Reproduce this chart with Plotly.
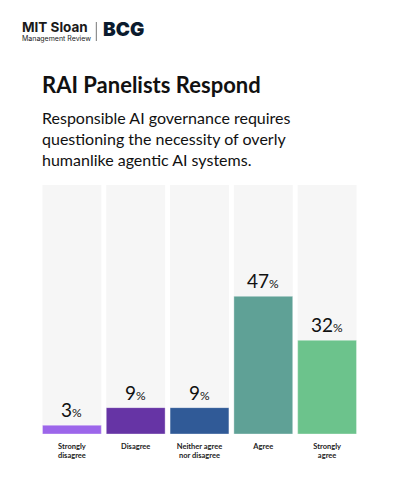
import plotly.graph_objects as go

categories = ["Strongly disagree", "Disagree", "Neither agree nor disagree", "Agree", "Strongly agree"]
tick_labels = ["Strongly<br>disagree", "Disagree", "Neither agree<br>nor disagree", "Agree", "Strongly<br>agree"]
values = [3, 9, 9, 47, 32]
colors = ["#9c66ea", "#6634a5", "#305a97", "#5fa196", "#6cc38c"]
axis_max = 85

# page body has an 8px default margin; figure sized to fit the 400x500 window
OFF = 8
W, H = 400 - OFF, 500 - OFF
ml, mr, mt, mb = 39.5 - OFF, 400 - 359.5, 185 - OFF, 500 - 434
PW, PH = W - ml - mr, H - mt - mb

fig = go.Figure()
fig.add_trace(go.Bar(x=categories, y=[axis_max] * len(categories), marker=dict(color="#f6f6f6", line=dict(width=0)),
                     hoverinfo="skip", showlegend=False))
fig.add_trace(go.Bar(x=categories, y=values, marker=dict(color=colors, line=dict(color="rgba(255,255,255,0.35)", width=1)),
                     showlegend=False))

for c, v in zip(categories, values):
    fig.add_annotation(x=c, y=v, xref="x", yref="y", yshift=2, yanchor="bottom", showarrow=False,
                       text=f"{v}<span style='font-size:12px'>%</span>",
                       font=dict(family="Lato", size=19, color="#111111"))

def px_x(p):
    return (p - OFF - ml) / PW
def px_y(p):
    return (H - mb - (p - OFF)) / PH

def add_text(txt, x, y, size, weight="normal", family="Lato", color="#111111", xanchor="left", yanchor="middle"):
    fig.add_annotation(x=px_x(x), y=px_y(y), xref="paper", yref="paper", showarrow=False, xanchor=xanchor,
                       yanchor=yanchor, text=txt, align="left", xshift=0,
                       font=dict(family=family, size=size, color=color, weight=weight))

# logo
add_text("<b>MIT Sloan</b>", 19, 26.5, 13.5, family="Inter", color="#1a1a1a")
add_text("Management Review", 19, 38.5, 7, family="Inter", color="#1a1a1a")
add_text("BCG", 101, 29, 19, weight=900, family="Inter", color="#0b1b2e")
fig.add_shape(type="line", xref="paper", yref="paper", x0=px_x(96), x1=px_x(96), y0=px_y(22), y1=px_y(41),
              line=dict(color="#777777", width=1))

add_text("RAI Panelists Respond", 40, 84, 22, weight="bold")
add_text("Responsible AI governance requires<br>questioning the necessity of overly<br>humanlike agentic AI systems.",
         40, 138, 16, yanchor="middle")

fig.update_layout(
    width=W, height=H,
    margin=dict(l=ml, r=mr, t=mt, b=mb, pad=0),
    paper_bgcolor="white", plot_bgcolor="white",
    barmode="overlay", bargap=0.078,
    xaxis=dict(tickmode="array", tickvals=categories, ticktext=[f"<b>{t}</b>" for t in tick_labels],
               tickfont=dict(family="Lato", size=7.5, color="#222222"), showgrid=False, zeroline=False,
               showline=False, ticks="", fixedrange=True, ticklabelstandoff=6),
    yaxis=dict(range=[0, axis_max], visible=False, fixedrange=True),
    showlegend=False,
)

fig.write_html("out.html")
